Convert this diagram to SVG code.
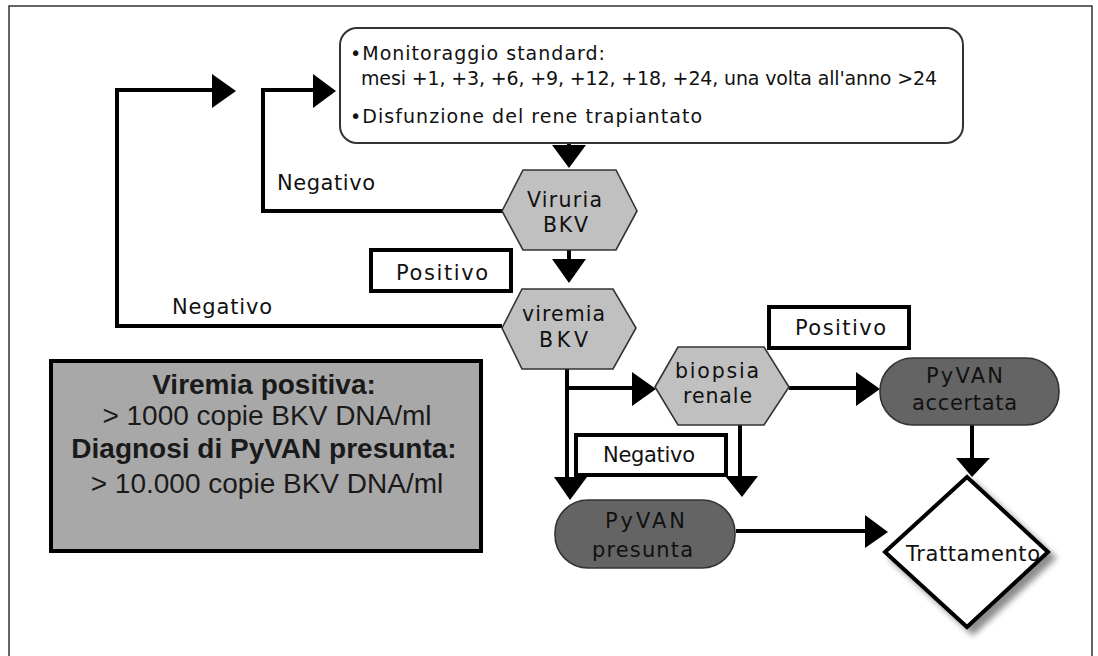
<svg xmlns="http://www.w3.org/2000/svg" width="1098" height="656" viewBox="0 0 1098 656">
<style>
.frame{fill:none;stroke:#333;stroke-width:1.5}
.ln{fill:none;stroke:#000;stroke-width:4}
.ah{fill:#000;stroke:none}
.hex{fill:#c0c0c0;stroke:#333;stroke-width:1.6}
.term{fill:#646464;stroke:#333;stroke-width:1.6}
.lbl{fill:#fff;stroke:#000;stroke-width:4}
.px{font-family:"DejaVu Sans","Liberation Sans",sans-serif;fill:#111}
.s18{font-size:19px}
.s19{font-size:20.5px}
.s20{font-size:21px}
.bx{font-family:"Liberation Sans",Arial,sans-serif;font-size:28px;fill:#1a1a1a;text-anchor:middle}
.b{font-weight:bold}
</style>
<defs>
<filter id="shd" x="-20%" y="-20%" width="150%" height="150%">
<feGaussianBlur in="SourceAlpha" stdDeviation="3"/>
<feOffset dx="6" dy="6" result="o"/>
<feComponentTransfer><feFuncA type="linear" slope="0.45"/></feComponentTransfer>
<feMerge><feMergeNode/><feMergeNode in="SourceGraphic"/></feMerge>
</filter>
</defs>
<rect width="1098" height="656" fill="#fff"/>
<path class="frame" d="M9,660 V6 H1092 V660"/>

<g id="connectors">
<polyline class="ln" points="502,326 117,326 117,90 214,90"/>
<polygon class="ah" points="212,74 212,108 236,91"/>
<polyline class="ln" points="502,211 263,211 263,90 315,90"/>
<polygon class="ah" points="313,74 313,108 336,91"/>
<line class="ln" x1="569" y1="143" x2="569" y2="147"/>
<polygon class="ah" points="552,145 586,145 569,168"/>
<line class="ln" x1="569" y1="250" x2="569" y2="261"/>
<polygon class="ah" points="552,259 586,259 569,283"/>
<line class="ln" x1="567" y1="369" x2="567" y2="479"/>
<polygon class="ah" points="554,477 587,477 570,500"/>
<line class="ln" x1="567" y1="388" x2="634" y2="388"/>
<polygon class="ah" points="632,372 632,406 656,389"/>
<line class="ln" x1="789" y1="388" x2="858" y2="388"/>
<polygon class="ah" points="856,372 856,406 880,389"/>
<line class="ln" x1="740" y1="425" x2="740" y2="478"/>
<polygon class="ah" points="725,476 758,476 742,497"/>
<line class="ln" x1="972" y1="425" x2="972" y2="460"/>
<polygon class="ah" points="956,458 990,458 972,477"/>
<line class="ln" x1="736" y1="531" x2="867" y2="531"/>
<polygon class="ah" points="865,515 865,548 888,532"/>
</g>

<g id="label-negativo-top">
<text class="px s20" x="277" y="190" textLength="98" lengthAdjust="spacing">Negativo</text>
</g>
<g id="label-negativo-outer">
<text class="px s20" x="172" y="314" textLength="100" lengthAdjust="spacing">Negativo</text>
</g>
<g id="label-positivo-left">
<rect class="lbl" x="371" y="250" width="140" height="41"/>
<text class="px s20" x="396" y="280" textLength="92" lengthAdjust="spacing">Positivo</text>
</g>
<g id="label-positivo-right">
<rect class="lbl" x="769" y="307" width="140" height="41"/>
<text class="px s20" x="795" y="335" textLength="91" lengthAdjust="spacing">Positivo</text>
</g>
<g id="label-negativo-bottom">
<rect class="lbl" x="576" y="435" width="150" height="40"/>
<text class="px s20" x="603" y="462" textLength="92" lengthAdjust="spacing">Negativo</text>
</g>

<g id="monitoraggio">
<rect x="340" y="28" width="623" height="115" rx="17" ry="17" fill="#fff" stroke="#333" stroke-width="2"/>
<text class="px s18" x="350" y="60" textLength="255" lengthAdjust="spacing">•Monitoraggio standard:</text>
<text class="px s18" x="361" y="85" textLength="576" lengthAdjust="spacing">mesi +1, +3, +6, +9, +12, +18, +24, una volta all'anno &gt;24</text>
<text class="px s18" x="350" y="123" textLength="352" lengthAdjust="spacing">•Disfunzione del rene trapiantato</text>
</g>

<g id="viruria">
<polygon class="hex" points="502,211 523,170 616,170 637,211 616,250 523,250"/>
<text class="px s19" x="527" y="207" textLength="75" lengthAdjust="spacing">Viruria</text>
<text class="px s19" x="543" y="232" textLength="45" lengthAdjust="spacing">BKV</text>
</g>

<g id="viremia">
<polygon class="hex" points="502,328 522,289 613,289 636,328 613,369 522,369"/>
<text class="px s19" x="522" y="321" textLength="83" lengthAdjust="spacing">viremia</text>
<text class="px s19" x="539" y="347" textLength="49" lengthAdjust="spacing">BKV</text>
</g>

<g id="biopsia">
<polygon class="hex" points="655,387 678,347 764,347 789,387 764,425 678,425"/>
<text class="px s19" x="675" y="378" textLength="84" lengthAdjust="spacing">biopsia</text>
<text class="px s19" x="683" y="403" textLength="69" lengthAdjust="spacing">renale</text>
</g>

<g id="pyvan-accertata">
<rect class="term" x="880" y="358" width="179" height="67" rx="33" ry="33"/>
<text class="px s20" x="926" y="383" textLength="77" lengthAdjust="spacing">PyVAN</text>
<text class="px s20" x="912" y="410" textLength="105" lengthAdjust="spacing">accertata</text>
</g>

<g id="pyvan-presunta">
<rect class="term" x="555" y="500" width="180" height="68" rx="33" ry="33"/>
<text class="px s20" x="605" y="528" textLength="80" lengthAdjust="spacing">PyVAN</text>
<text class="px s20" x="592" y="557" textLength="101" lengthAdjust="spacing">presunta</text>
</g>

<g id="trattamento">
<polygon points="967,477 1048,552 967,627 885,552" fill="#fff" stroke="#000" stroke-width="4" filter="url(#shd)"/>
<text class="px s20" x="906" y="561" textLength="134" lengthAdjust="spacing">Trattamento</text>
</g>

<g id="legend">
<rect x="51" y="361" width="430" height="190" fill="#a8a8a8" stroke="#000" stroke-width="4"/>
<text class="bx b" x="264" y="394">Viremia positiva:</text>
<text class="bx" x="267" y="425">&gt; 1000 copie BKV DNA/ml</text>
<text class="bx b" x="264" y="458">Diagnosi di PyVAN presunta:</text>
<text class="bx" x="267" y="493">&gt; 10.000 copie BKV DNA/ml</text>
</g>
</svg>
